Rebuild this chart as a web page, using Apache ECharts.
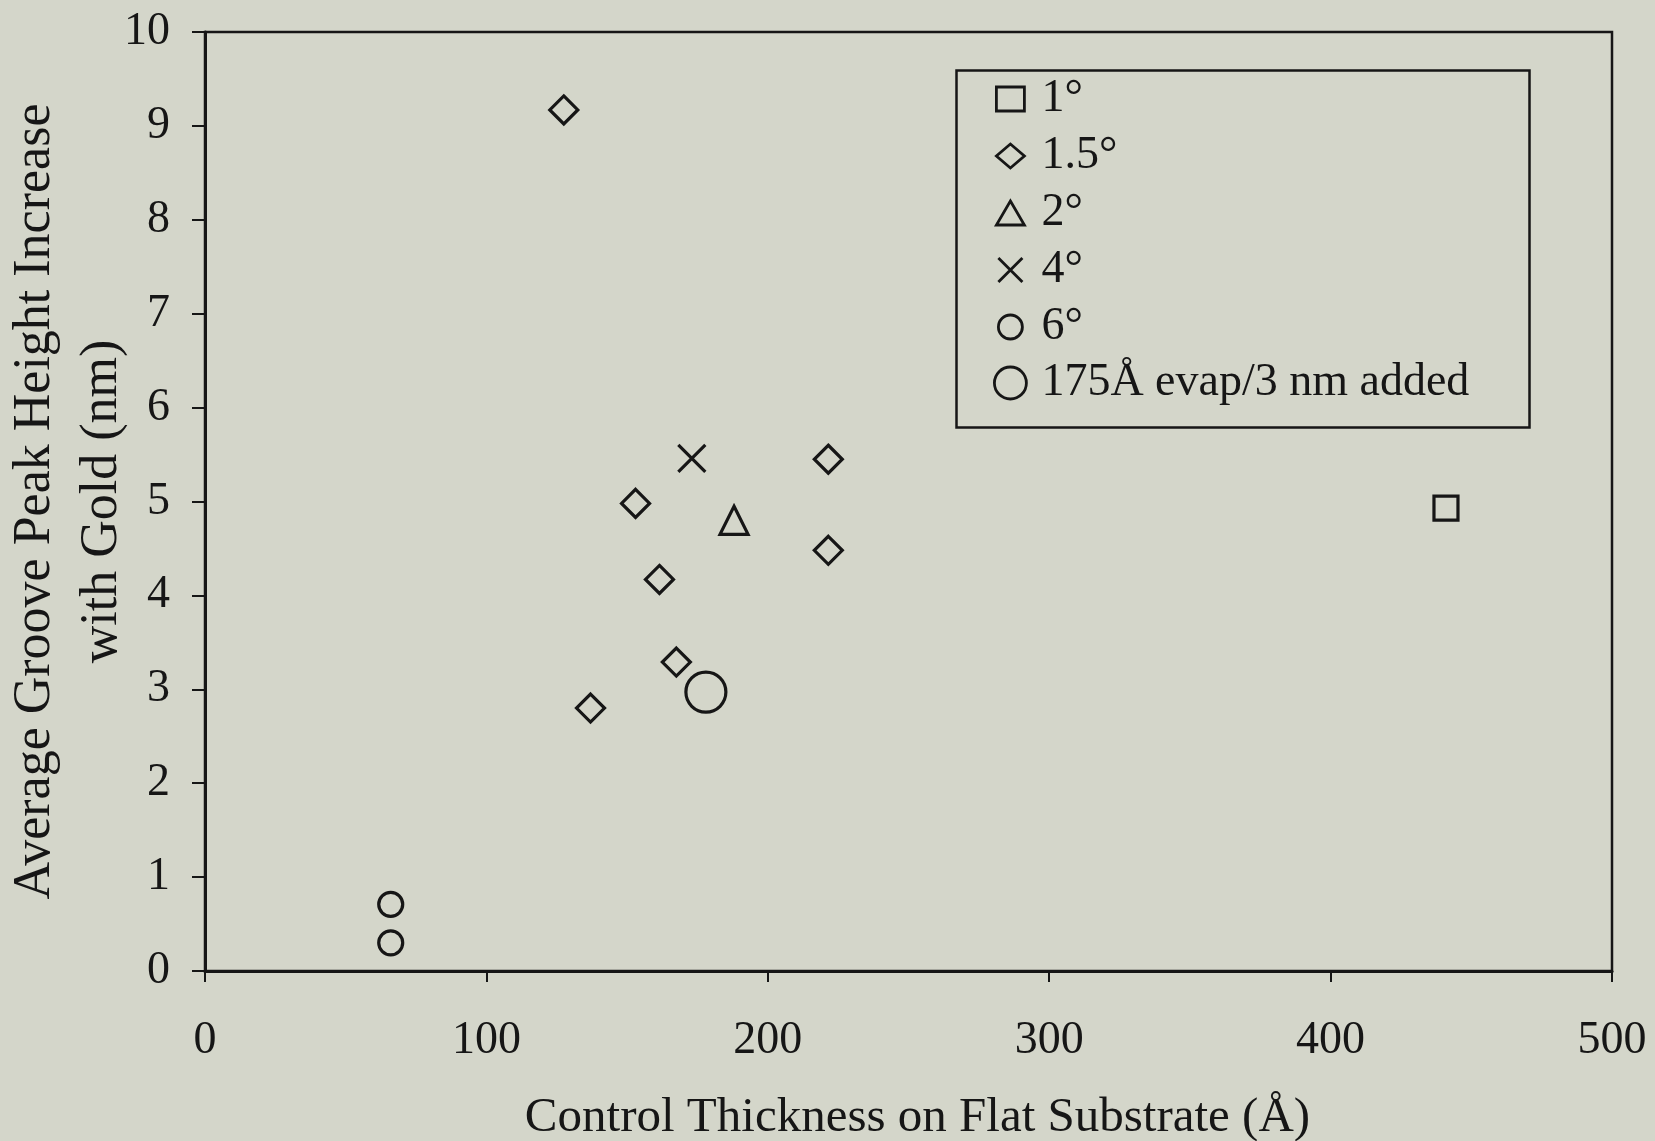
<!DOCTYPE html>
<html>
<head>
<meta charset="utf-8">
<script src="https://cdn.jsdelivr.net/npm/echarts@6/dist/echarts.min.js"></script>
<style>
html,body{margin:0;padding:0;background:#d4d6ca;}
#chart{width:1655px;height:1141px;}
</style>
</head>
<body>
<div id="chart"></div>
<script>
// ---- data ----
const seriesNames = ['1°', '1.5°', '2°', '4°', '6°', '175Å evap/3 nm added'];
const deg1 = [[441, 4.93]];
const deg1_5 = [[127.5, 9.17], [153, 4.98], [221.5, 5.45], [221.5, 4.48], [161.5, 4.17], [167.5, 3.29], [137, 2.80]];
const deg2 = [[188, 4.80]];
const deg4 = [[173, 5.46]];
const deg6 = [[66, 0.71], [66, 0.30]];
const evap175 = [[178, 2.97]];
const xTicks = { min: 0, max: 500, interval: 100 };
const yTicks = { min: 0, max: 10, interval: 1 };
const xTitle = 'Control Thickness on Flat Substrate (Å)';
const yTitle = 'Average Groove Peak Height Increase\nwith Gold (nm)';

const INK = '#161616';
const FONT = "'Liberation Serif', 'Times New Roman', serif";
const hollow = { color: 'rgba(0,0,0,0)', borderColor: INK, borderWidth: 3.2, opacity: 1 };

function mk(name, data, symbol, size) {
  return {
    name: name, type: 'scatter', data: data,
    symbol: symbol, symbolSize: size,
    itemStyle: hollow, emphasis: { disabled: true }
  };
}

const chart = echarts.init(document.getElementById('chart'), null, { renderer: 'canvas' });
chart.setOption({
  backgroundColor: '#d4d6ca',
  animation: false,
  textStyle: { fontFamily: FONT, color: INK },
  grid: {
    left: 205, right: 43, top: 32, bottom: 170,
    outerBoundsMode: 'none', containLabel: false,
    show: true, borderColor: INK, borderWidth: 2.5, backgroundColor: 'transparent'
  },
  xAxis: {
    type: 'value', min: xTicks.min, max: xTicks.max, interval: xTicks.interval,
    name: xTitle, nameLocation: 'middle', nameGap: 123, nameMoveOverlap: false,
    nameTextStyle: { fontFamily: FONT, fontSize: 49, color: INK, padding: [0, 0, 0, 18] },
    axisLine: { show: true, lineStyle: { color: INK, width: 3 } },
    axisTick: { show: true, inside: false, length: 11, lineStyle: { color: INK, width: 2 } },
    axisLabel: { fontFamily: FONT, fontSize: 46, color: INK, margin: 47 },
    splitLine: { show: false }
  },
  yAxis: {
    type: 'value', min: yTicks.min, max: yTicks.max, interval: yTicks.interval,
    name: yTitle, nameLocation: 'middle', nameGap: 69, nameRotate: 90, nameMoveOverlap: false,
    nameTextStyle: { fontFamily: FONT, fontSize: 52, color: INK, lineHeight: 67 },
    axisLine: { show: true, lineStyle: { color: INK, width: 3 } },
    axisTick: { show: true, inside: false, length: 13, lineStyle: { color: INK, width: 2 } },
    axisLabel: { fontFamily: FONT, fontSize: 46, color: INK, margin: 35 },
    splitLine: { show: false }
  },
  legend: [
    {
      data: seriesNames.slice(0, 5), orient: 'vertical',
      left: 995, top: 76, itemWidth: 28, itemHeight: 24, itemGap: 11,
      padding: 0, selectedMode: false,
      itemStyle: { borderWidth: 2.8 },
      textStyle: { fontFamily: FONT, fontSize: 46, color: INK, lineHeight: 46, padding: [0, 0, 0, 12] }
    },
    {
      data: seriesNames.slice(5), orient: 'vertical',
      left: 993, top: 360, itemWidth: 32, itemHeight: 32,
      padding: 0, selectedMode: false,
      itemStyle: { borderWidth: 2.8 },
      textStyle: { fontFamily: FONT, fontSize: 46, color: INK, lineHeight: 46, padding: [0, 0, 0, 10] }
    }
  ],
  graphic: [{
    type: 'rect', left: 954, top: 68, z: 100,
    shape: { width: 573, height: 357 },
    style: { fill: 'none', stroke: INK, lineWidth: 2.5 }
  }],
  series: [
    mk(seriesNames[0], deg1, 'rect', 24),
    mk(seriesNames[1], deg1_5, 'diamond', 28),
    mk(seriesNames[2], deg2, 'triangle', 28),
    mk(seriesNames[3], deg4, 'path://M0,0L10,10M10,0L0,10', 27),
    mk(seriesNames[4], deg6, 'circle', 24),
    mk(seriesNames[5], evap175, 'circle', 40)
  ]
});
</script>
</body>
</html>
